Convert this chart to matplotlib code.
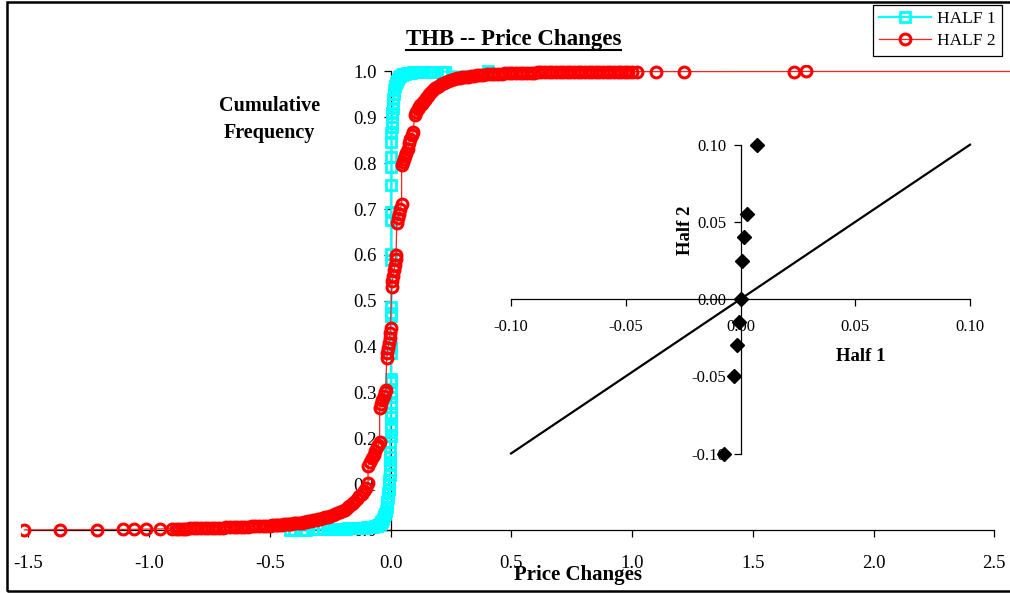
import matplotlib
matplotlib.use("Agg")
import matplotlib.pyplot as plt
import numpy as np
from matplotlib.lines import Line2D
from matplotlib.patches import Rectangle

plt.rcParams['font.family'] = ['Liberation Serif', 'DejaVu Serif']
plt.rcParams['axes.unicode_minus'] = False

# ---------------- data ----------------
# HALF 2 (red circles): price change (sorted) and cumulative frequency
half2_change = [
    -1.516, -1.369, -1.215, -1.108, -1.062, -1.012, -0.954,
    -0.905, -0.890, -0.875, -0.860, -0.845, -0.830, -0.815, -0.800, -0.785, -0.770,
    -0.755, -0.740, -0.725, -0.710, -0.695, -0.680, -0.665, -0.650, -0.635, -0.620,
    -0.605, -0.590, -0.575, -0.560, -0.545, -0.530, -0.515, -0.500,
    -0.490, -0.480, -0.470, -0.460, -0.450, -0.440, -0.430, -0.420, -0.410, -0.400,
    -0.390, -0.380, -0.370, -0.360, -0.350, -0.340, -0.330, -0.320, -0.310, -0.300,
    -0.290, -0.280, -0.270, -0.260, -0.250, -0.240, -0.230, -0.220, -0.210, -0.200,
    -0.190, -0.180, -0.170, -0.160, -0.150, -0.140, -0.130, -0.120, -0.110, -0.100,
    -0.093,
    -0.093, -0.085, -0.078, -0.070, -0.063, -0.056, -0.050, -0.045,
    -0.045, -0.040, -0.034, -0.028, -0.023, -0.019,
    -0.016, -0.013, -0.010, -0.007, -0.004, -0.002, 0.000,
    0.005, 0.008, 0.011, 0.015, 0.018, 0.021, 0.023,
    0.026, 0.031, 0.036, 0.041, 0.046,
    0.046, 0.051, 0.056, 0.061, 0.066, 0.072,
    0.076, 0.082, 0.088, 0.094,
    0.100, 0.106, 0.112, 0.118, 0.124, 0.130, 0.136, 0.142, 0.148, 0.154,
    0.160, 0.168, 0.176, 0.184, 0.192, 0.200, 0.210, 0.220, 0.230, 0.240,
    0.250, 0.262, 0.274, 0.286, 0.298, 0.310, 0.322, 0.334, 0.346, 0.358,
    0.370, 0.385, 0.400, 0.415, 0.430, 0.445, 0.460, 0.475, 0.490,
    0.505, 0.520, 0.535, 0.550, 0.565, 0.580, 0.595, 0.610, 0.625, 0.640,
    0.655, 0.670, 0.685, 0.700, 0.715, 0.730, 0.745, 0.760, 0.775, 0.790,
    0.805, 0.820, 0.835, 0.850, 0.865, 0.880, 0.895, 0.910, 0.925, 0.940,
    0.955, 0.970, 0.985, 1.000, 1.020,
    1.100, 1.215, 1.671, 1.720, 2.900,
]
half2_cumfreq = [
    0.0003, 0.0006, 0.0009, 0.0012, 0.0015, 0.0018, 0.0021,
    0.0024, 0.0026, 0.0028, 0.0030, 0.0032, 0.0034, 0.0036, 0.0038, 0.0040, 0.0042,
    0.0044, 0.0046, 0.0048, 0.0050, 0.0053, 0.0056, 0.0059, 0.0062, 0.0065, 0.0068,
    0.0071, 0.0074, 0.0077, 0.0080, 0.0084, 0.0088, 0.0092, 0.0096,
    0.0100, 0.0104, 0.0108, 0.0112, 0.0116, 0.0121, 0.0126, 0.0131, 0.0136, 0.0142,
    0.0148, 0.0155, 0.0162, 0.0170, 0.0178, 0.0187, 0.0197, 0.0208, 0.0220, 0.0232,
    0.0246, 0.0260, 0.0276, 0.0293, 0.0311, 0.0330, 0.0350, 0.0372, 0.0396, 0.0420,
    0.0446, 0.0478, 0.0515, 0.0560, 0.0610, 0.0680, 0.0740, 0.0790, 0.0850, 0.0920,
    0.1030,
    0.140, 0.148, 0.156, 0.164, 0.172, 0.180, 0.186, 0.191,
    0.265, 0.274, 0.283, 0.292, 0.300, 0.306,
    0.375, 0.386, 0.397, 0.408, 0.419, 0.430, 0.440,
    0.530, 0.542, 0.554, 0.566, 0.578, 0.590, 0.600,
    0.670, 0.680, 0.690, 0.700, 0.712,
    0.796, 0.803, 0.810, 0.816, 0.823, 0.830,
    0.845, 0.853, 0.861, 0.869,
    0.905, 0.912, 0.918, 0.923, 0.927, 0.930, 0.934, 0.938, 0.943, 0.947,
    0.951, 0.955, 0.959, 0.963, 0.966, 0.969, 0.972, 0.975, 0.977, 0.979,
    0.981, 0.983, 0.985, 0.986, 0.987, 0.988, 0.989, 0.990, 0.991, 0.992,
    0.9925, 0.9930, 0.9935, 0.9940, 0.9945, 0.9950, 0.9955, 0.9960, 0.9963,
    0.9966, 0.9968, 0.9970, 0.9972, 0.9974, 0.9976, 0.9978, 0.9979, 0.9980, 0.9981,
    0.9982, 0.9983, 0.9984, 0.9985, 0.9986, 0.9987, 0.9988, 0.9989, 0.9990, 0.9990,
    0.9991, 0.9991, 0.9992, 0.9992, 0.9993, 0.9993, 0.9994, 0.9994, 0.9995, 0.9995,
    0.9996, 0.9996, 0.9997, 0.9997, 0.9998,
    0.9998, 0.9999, 0.9999, 1.0000, 1.0000,
]

# HALF 1 (cyan squares)
half1_change = [
    -0.416, -0.400, -0.368, -0.350, -0.320, -0.300, -0.280, -0.262, -0.250, -0.235,
    -0.220, -0.210, -0.200, -0.192, -0.184, -0.176, -0.168, -0.160, -0.152, -0.144,
    -0.136, -0.128, -0.120, -0.112, -0.104, -0.096, -0.088, -0.080, -0.072, -0.064,
    -0.057, -0.050, -0.045, -0.040, -0.035, -0.030, -0.026, -0.022, -0.019, -0.016,
    -0.013, -0.011, -0.009, -0.007, -0.006, -0.005, -0.004, -0.003,
    -0.002, -0.002, -0.001, -0.001, 0.000, 0.000, 0.000, 0.001, 0.001, 0.001,
    0.001, 0.001, 0.002, 0.002, 0.002, 0.002, 0.002, 0.002, 0.003, 0.003,
    0.003, 0.003, 0.003, 0.003, 0.004, 0.004, 0.004, 0.004,
    0.005, 0.006, 0.007, 0.008, 0.009, 0.010, 0.012, 0.014, 0.016, 0.019,
    0.022, 0.026, 0.030, 0.035, 0.040, 0.046, 0.052, 0.060, 0.068, 0.076,
    0.085, 0.095, 0.105, 0.115, 0.125, 0.140, 0.165, 0.178, 0.192, 0.215,
    0.225, 0.405,
]
half1_cumfreq = [
    0.0004, 0.0006, 0.0008, 0.0010, 0.0012, 0.0014, 0.0016, 0.0018, 0.0020, 0.0022,
    0.0024, 0.0026, 0.0028, 0.0030, 0.0032, 0.0034, 0.0036, 0.0038, 0.0040, 0.0042,
    0.0044, 0.0046, 0.0048, 0.0050, 0.0053, 0.0056, 0.0060, 0.0065, 0.0071, 0.0080,
    0.0092, 0.0110, 0.0135, 0.0165, 0.0200, 0.0245, 0.0295, 0.0355, 0.0425, 0.0500,
    0.0600, 0.0700, 0.0800, 0.0900, 0.1000, 0.1100, 0.1200, 0.1300,
    0.145, 0.160, 0.170, 0.192, 0.205, 0.220, 0.229, 0.247, 0.255, 0.276,
    0.290, 0.302, 0.323, 0.330, 0.385, 0.400, 0.467, 0.473, 0.487, 0.589,
    0.603, 0.676, 0.694, 0.752, 0.792, 0.813, 0.847, 0.865,
    0.880, 0.890, 0.900, 0.910, 0.920, 0.930, 0.940, 0.950, 0.960, 0.968,
    0.975, 0.980, 0.984, 0.987, 0.990, 0.992, 0.994, 0.9955, 0.9965, 0.9972,
    0.9978, 0.9982, 0.9985, 0.9988, 0.9990, 0.9992, 0.9994, 0.9995, 0.9996, 0.9997,
    0.9998, 1.0000,
]

# Inset: quantile comparison Half 1 vs Half 2
qq_half1 = [-0.0071, -0.0028, -0.0017, -0.0005, 0.0000, 0.0007, 0.0017, 0.0030, 0.0071]
qq_half2 = [-0.100, -0.050, -0.030, -0.015, 0.000, 0.025, 0.040, 0.055, 0.100]
ref_line = [-0.10, 0.10]

x_ticks = [-1.5, -1.0, -0.5, 0.0, 0.5, 1.0, 1.5, 2.0, 2.5]
y_ticks = [0.0, 0.1, 0.2, 0.3, 0.4, 0.5, 0.6, 0.7, 0.8, 0.9, 1.0]
inset_ticks = [-0.10, -0.05, 0.00, 0.05, 0.10]

# ---------------- figure ----------------
W, H = 1010, 593
fig = plt.figure(figsize=(W / 100, H / 100), dpi=100)

def fx(px):
    return px / W

def fy(py):
    return 1 - py / H

# main axes: x 0 at px 390.5, 241.5 px/unit; y 0 at py 530, 1 at py 71.5
xl = (-1.53, 2.60)
yl = (-0.015, 1.015)
x0p = 390.5 + xl[0] * 241.5
x1p = 390.5 + xl[1] * 241.5
ybp = 530 - yl[0] * 458.5
ytp = 530 - yl[1] * 458.5
ax = fig.add_axes([fx(x0p), fy(ybp), fx(x1p) - fx(x0p), fy(ytp) - fy(ybp)])
ax.set_xlim(*xl)
ax.set_ylim(*yl)
ax.patch.set_alpha(0)

ax.plot(half1_change, half1_cumfreq, color='#00FFFF', lw=1.6, marker='s', ms=6.6,
        mfc='none', mec='#00FFFF', mew=2.0, label='HALF 1', zorder=3)
ax.plot(half2_change, half2_cumfreq, color='#FF2020', lw=0.9, marker='o', ms=7.8,
        mfc='none', mec='#FF0000', mew=2.2, label='HALF 2', zorder=4)

for s in ['top', 'right']:
    ax.spines[s].set_visible(False)
ax.spines['left'].set_position(('data', 0))
ax.spines['bottom'].set_position(('data', 0))
ax.spines['left'].set_bounds(0, 1)
ax.spines['bottom'].set_bounds(-1.5, 2.5)
for s in ['left', 'bottom']:
    ax.spines[s].set_linewidth(0.9)
    ax.spines[s].set_zorder(2)
ax.set_xticks(x_ticks)
ax.set_xticklabels(['%.1f' % v for v in x_ticks])
ax.set_yticks(y_ticks)
ax.set_yticklabels(['%.1f' % v for v in y_ticks])
ax.tick_params(axis='x', direction='out', length=5, width=0.9, pad=13, labelsize=13.5)
ax.tick_params(axis='y', direction='out', length=5, width=0.9, pad=5, labelsize=13.5)

# inset axes
ix0, ix1 = 511, 970
iy1, iy0 = 144.7, 453.5
ax2 = fig.add_axes([fx(ix0), fy(iy0), fx(ix1) - fx(ix0), fy(iy1) - fy(iy0)])
ax2.set_xlim(-0.1, 0.1)
ax2.set_ylim(-0.1, 0.1)
ax2.patch.set_alpha(0)
ax2.plot(ref_line, ref_line, color='black', lw=1.6, zorder=3, clip_on=False)
ax2.plot(qq_half1, qq_half2, linestyle='none', marker='D', ms=7.2, color='black',
         zorder=4, clip_on=False)
for s in ['top', 'right']:
    ax2.spines[s].set_visible(False)
ax2.spines['left'].set_position(('data', 0))
ax2.spines['bottom'].set_position(('data', 0))
for s in ['left', 'bottom']:
    ax2.spines[s].set_linewidth(0.9)
ax2.set_xticks(inset_ticks)
ax2.set_xticklabels(['%.2f' % v for v in inset_ticks])
ax2.set_yticks(inset_ticks)
ax2.set_yticklabels(['%.2f' % v for v in inset_ticks])
ax2.tick_params(axis='x', direction='out', length=5, width=0.9, pad=9, labelsize=12)
ax2.tick_params(axis='y', direction='out', length=5, width=0.9, pad=5, labelsize=12)

# texts
title = fig.text(fx(513.5), fy(45), 'THB -- Price Changes', ha='center', va='baseline',
                 fontsize=16.5, fontweight='bold')
fig.text(fx(269.5), fy(110.7), 'Cumulative', ha='center', va='baseline',
         fontsize=14.5, fontweight='bold')
fig.text(fx(269.5), fy(138.3), 'Frequency', ha='center', va='baseline',
         fontsize=14.5, fontweight='bold')
fig.text(fx(578), fy(580), 'Price Changes', ha='center', va='baseline',
         fontsize=15, fontweight='bold')
fig.text(fx(685), fy(230), 'Half 2', ha='center', va='center', rotation=90,
         fontsize=13.5, fontweight='bold')
fig.text(fx(861), fy(361), 'Half 1', ha='center', va='baseline',
         fontsize=13.5, fontweight='bold')

# underline of title
fig.canvas.draw()
bb = title.get_window_extent(renderer=fig.canvas.get_renderer())
fig.add_artist(Line2D([bb.x0 / W, bb.x1 / W], [fy(49.5), fy(49.5)],
                      transform=fig.transFigure, color='black', lw=1.5))

# legend
h, l = ax.get_legend_handles_labels()
leg = fig.legend(h, l, loc='upper right', bbox_to_anchor=(fx(1002), fy(5)),
                 frameon=True, fancybox=False, framealpha=1, edgecolor='black',
                 borderpad=0.35, labelspacing=0.35, handlelength=3.0,
                 handletextpad=0.35, borderaxespad=0, numpoints=1,
                 prop={'family': 'Liberation Serif', 'size': 12.5})
leg.get_frame().set_linewidth(0.9)

# outer border
fig.add_artist(Rectangle((fx(7), fy(590.5)), fx(1012) - fx(7), fy(1.5) - fy(590.5),
                         transform=fig.transFigure, fill=False, lw=1.8,
                         edgecolor='black', clip_on=False))

fig.savefig('out.png', dpi=100)
